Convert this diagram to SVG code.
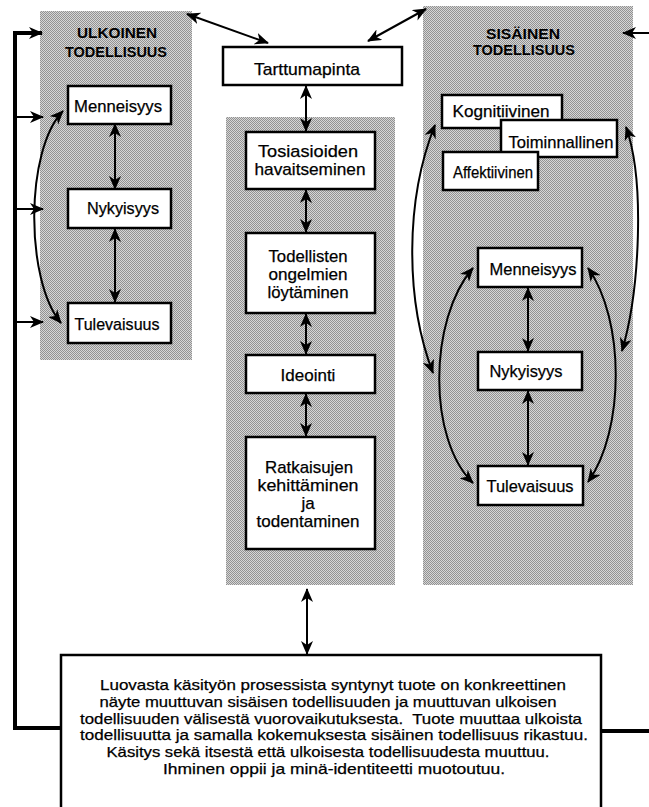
<svg xmlns="http://www.w3.org/2000/svg" width="649" height="807" viewBox="0 0 649 807">
<defs>
<pattern id="dots" width="2" height="2" patternUnits="userSpaceOnUse">
<rect width="2" height="2" fill="#d6d6d6"/>
<rect width="1" height="1" fill="#929292"/>
<rect x="1" y="1" width="1" height="1" fill="#929292"/>
</pattern>
<marker id="ah" viewBox="0 0 14 12" refX="13" refY="6" markerWidth="14" markerHeight="12" markerUnits="userSpaceOnUse" orient="auto-start-reverse">
<path d="M0,0 L14,6 L0,12 L4,6 Z" fill="#000"/>
</marker>
<style>
.panel{fill:url(#dots);}
.box{fill:#fff;stroke:#000;stroke-width:2.5;}
.lbl{font-family:"Liberation Sans",Arial,sans-serif;font-size:17px;fill:#000;stroke:#000;stroke-width:0.25;text-anchor:middle;}
.head{font-family:"Liberation Sans",Arial,sans-serif;font-size:15px;font-weight:bold;fill:#000;text-anchor:middle;}
.body{font-family:"Liberation Sans",Arial,sans-serif;font-size:15px;fill:#000;stroke:#000;stroke-width:0.25;text-anchor:middle;}
.c{fill:none;stroke:#000;stroke-width:2;}
.d{marker-start:url(#ah);marker-end:url(#ah);}
.e{marker-end:url(#ah);}
.frame{fill:none;stroke:#000;stroke-width:4;}
</style>
</defs>
<rect width="649" height="807" fill="#fff"/>

<g id="panels">
<rect id="panel-ulkoinen" class="panel" x="40" y="11" width="152" height="349"/>
<rect id="panel-process" class="panel" x="226" y="117" width="169" height="468"/>
<rect id="panel-sisainen" class="panel" x="423" y="6" width="210" height="579"/>
<text class="head" x="117" y="38" textLength="80" lengthAdjust="spacingAndGlyphs">ULKOINEN</text>
<text class="head" x="116" y="57" textLength="102" lengthAdjust="spacingAndGlyphs">TODELLISUUS</text>
<text class="head" x="523" y="39" textLength="74" lengthAdjust="spacingAndGlyphs">SISÄINEN</text>
<text class="head" x="524" y="55" textLength="102" lengthAdjust="spacingAndGlyphs">TODELLISUUS</text>
</g>

<g id="connectors">
<path class="frame e" d="M61,728 H15 V33 H42"/>
<path class="c e" stroke-width="3" d="M15,117 H43"/>
<path class="c e" stroke-width="3" d="M15,209 H43"/>
<path class="c e" stroke-width="3" d="M15,322 H43"/>
<path class="frame" d="M601,731 H649"/>
<path class="c e" stroke-width="3" d="M649,33 H623"/>
<path class="c d" d="M187,14 L268,43"/>
<path class="c d" d="M368,41 L426,9"/>
<path class="c d" d="M115,124 V189"/>
<path class="c d" d="M115,229 V302"/>
<path class="c d" d="M63,111 C25,150 25,280 61,323"/>
<path class="c d" d="M306,86 V131"/>
<path class="c d" d="M306,190 V232"/>
<path class="c d" d="M306,314 V354"/>
<path class="c d" d="M306,394 V436"/>
<path class="c d" d="M307,589 V654"/>
<path class="c d" d="M528,288 V351"/>
<path class="c d" d="M528,391 V465"/>
<path class="c d" d="M435,125 C405,200 405,300 433,373"/>
<path class="c d" d="M626,127 C645,180 640,290 622,351"/>
<path class="c d" d="M473,268 C428,320 428,440 473,483"/>
<path class="c d" d="M588,268 C625,320 625,430 588,482"/>
</g>

<g id="tarttumapinta">
<rect class="box" x="223" y="47" width="179" height="38"/>
<text class="lbl" x="307" y="75" textLength="106" lengthAdjust="spacingAndGlyphs">Tarttumapinta</text>
</g>

<g id="u-menneisyys">
<rect class="box" x="68" y="86" width="103" height="38"/>
<text class="lbl" x="118" y="112" textLength="88" lengthAdjust="spacingAndGlyphs">Menneisyys</text>
</g>
<g id="u-nykyisyys">
<rect class="box" x="68" y="189" width="103" height="39"/>
<text class="lbl" x="123" y="214" textLength="72" lengthAdjust="spacingAndGlyphs">Nykyisyys</text>
</g>
<g id="u-tulevaisuus">
<rect class="box" x="68" y="303" width="103" height="40"/>
<text class="lbl" x="117" y="330" textLength="85" lengthAdjust="spacingAndGlyphs">Tulevaisuus</text>
</g>

<g id="tosiasioiden">
<rect class="box" x="246" y="132" width="129" height="57"/>
<text class="lbl" x="308" y="157" textLength="100" lengthAdjust="spacingAndGlyphs">Tosiasioiden</text>
<text class="lbl" x="310" y="175" textLength="111" lengthAdjust="spacingAndGlyphs">havaitseminen</text>
</g>
<g id="todellisten">
<rect class="box" x="246" y="233" width="129" height="80"/>
<text class="lbl" x="308" y="262" textLength="79" lengthAdjust="spacingAndGlyphs">Todellisten</text>
<text class="lbl" x="308" y="280" textLength="79" lengthAdjust="spacingAndGlyphs">ongelmien</text>
<text class="lbl" x="308" y="298" textLength="81" lengthAdjust="spacingAndGlyphs">löytäminen</text>
</g>
<g id="ideointi">
<rect class="box" x="246" y="355" width="129" height="38"/>
<text class="lbl" x="308" y="381">Ideointi</text>
</g>
<g id="ratkaisujen">
<rect class="box" x="246" y="437" width="129" height="112"/>
<text class="lbl" x="309" y="473" textLength="88" lengthAdjust="spacingAndGlyphs">Ratkaisujen</text>
<text class="lbl" x="308" y="491" textLength="101" lengthAdjust="spacingAndGlyphs">kehittäminen</text>
<text class="lbl" x="308" y="509">ja</text>
<text class="lbl" x="308" y="527" textLength="103" lengthAdjust="spacingAndGlyphs">todentaminen</text>
</g>

<g id="kognitiivinen">
<rect class="box" x="442" y="95" width="120" height="33"/>
<text class="lbl" x="501" y="117" textLength="97" lengthAdjust="spacingAndGlyphs">Kognitiivinen</text>
</g>
<g id="toiminnallinen">
<rect class="box" x="501" y="120" width="116" height="37"/>
<text class="lbl" x="561" y="148" textLength="105" lengthAdjust="spacingAndGlyphs">Toiminnallinen</text>
</g>
<g id="affektiivinen">
<rect class="box" x="443" y="152" width="95" height="38"/>
<text class="lbl" x="493" y="178" textLength="80" lengthAdjust="spacingAndGlyphs">Affektiivinen</text>
</g>
<g id="s-menneisyys">
<rect class="box" x="478" y="248" width="104" height="39"/>
<text class="lbl" x="533" y="275" textLength="87" lengthAdjust="spacingAndGlyphs">Menneisyys</text>
</g>
<g id="s-nykyisyys">
<rect class="box" x="478" y="352" width="104" height="38"/>
<text class="lbl" x="526" y="377" textLength="73" lengthAdjust="spacingAndGlyphs">Nykyisyys</text>
</g>
<g id="s-tulevaisuus">
<rect class="box" x="478" y="466" width="105" height="39"/>
<text class="lbl" x="530" y="492" textLength="87" lengthAdjust="spacingAndGlyphs">Tulevaisuus</text>
</g>

<g id="tuote">
<rect class="box" x="61" y="655" width="540" height="170"/>
<text class="body" x="333" y="690" textLength="466" lengthAdjust="spacingAndGlyphs">Luovasta käsityön prosessista syntynyt tuote on konkreettinen</text>
<text class="body" x="328" y="707" textLength="457" lengthAdjust="spacingAndGlyphs">näyte muuttuvan sisäisen todellisuuden ja muuttuvan ulkoisen</text>
<text class="body" x="331" y="724" textLength="502" lengthAdjust="spacingAndGlyphs">todellisuuden välisestä vuorovaikutuksesta.&#160; Tuote muuttaa ulkoista</text>
<text class="body" x="334" y="740" textLength="508" lengthAdjust="spacingAndGlyphs">todellisuutta ja samalla kokemuksesta sisäinen todellisuus rikastuu.</text>
<text class="body" x="328" y="757" textLength="443" lengthAdjust="spacingAndGlyphs">Käsitys sekä itsestä että ulkoisesta todellisuudesta muuttuu.</text>
<text class="body" x="334" y="774" textLength="342" lengthAdjust="spacingAndGlyphs">Ihminen oppii ja minä-identiteetti muotoutuu.</text>
</g>
</svg>
